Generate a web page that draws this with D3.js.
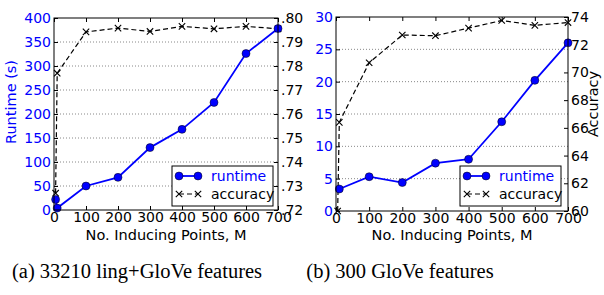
<!DOCTYPE html>
<html lang="en">
<head>
<meta charset="UTF-8" />
<title>Runtime vs accuracy</title>
<script src="https://d3js.org/d3.v7.min.js"></script>
<style>
  body { margin: 0; background: #fff; }
  svg { display: block; }
  .tick text { font-family: "DejaVu Sans", sans-serif; font-size: 14px; }
  .domain { display: none; }
  .lbl { font-family: "DejaVu Sans", sans-serif; font-size: 14.5px; }
  .leg { font-family: "DejaVu Sans", sans-serif; font-size: 14px; }
  .cap { font-family: "Liberation Serif", serif; font-size: 20.5px; }
</style>
</head>
<body>
<svg width="604" height="295"></svg>
<script>
// Data
const M = [5, 10, 100, 200, 300, 400, 500, 600, 700];
const runtimeA = [22, 4, 50, 68, 130, 168, 224, 326, 378];
const accuracyA = [0.727, 0.777, 0.7942, 0.7958, 0.7944, 0.7965, 0.7955, 0.7965, 0.7955];
const runtimeB = [null, 3.4, 5.3, 4.4, 7.4, 8.0, 13.8, 20.2, 26.0];
const accuracyB = [60.0, 66.4, 70.7, 72.7, 72.65, 73.2, 73.75, 73.4, 73.6];

const xTicks = [0, 100, 200, 300, 400, 500, 600, 700];
const runTicksA = [0, 50, 100, 150, 200, 250, 300, 350, 400];
const accTicksA = [0.72, 0.73, 0.74, 0.75, 0.76, 0.77, 0.78, 0.79, 0.80];
const runTicksB = [0, 5, 10, 15, 20, 25, 30];
const accTicksB = [60, 62, 64, 66, 68, 70, 72, 74];

const BLUE = "#0000ff";
const svg = d3.select("svg");

function panel(p) {
  const x = d3.scaleLinear().domain([0, 700]).range([p.left, p.right]);
  const yL = d3.scaleLinear().domain(p.runDomain).range([p.bottom, p.top]);
  const yR = d3.scaleLinear().domain(p.accDomain).range([p.bottom, p.top]);
  const g = svg.append("g");

  // gridlines on left axis
  g.selectAll(".grid").data(p.runTicks.slice(1, -1)).enter().append("line")
    .attr("x1", p.left).attr("x2", p.right)
    .attr("y1", d => yL(d)).attr("y2", d => yL(d))
    .attr("stroke", "#888").attr("stroke-width", 1).attr("stroke-dasharray", "1,2");

  // axes with inward ticks
  g.append("g").attr("transform", `translate(0,${p.bottom})`)
    .call(d3.axisBottom(x).tickValues(xTicks).tickSize(-4).tickPadding(2).tickFormat(d3.format("d")))
    .call(a => a.selectAll("text").attr("fill", "#000"));
  g.append("g").attr("transform", `translate(0,${p.top})`)
    .call(d3.axisTop(x).tickValues(xTicks).tickSize(-4).tickFormat(""));
  g.append("g").attr("transform", `translate(${p.left},0)`)
    .call(d3.axisLeft(yL).tickValues(p.runTicks).tickSize(-4).tickPadding(3).tickFormat(d3.format("d")))
    .call(a => a.selectAll("text").attr("fill", BLUE));
  g.append("g").attr("transform", `translate(${p.right},0)`)
    .call(d3.axisRight(yR).tickValues(p.accTicks).tickSize(-4).tickPadding(3).tickFormat(p.accFormat))
    .call(a => a.selectAll("text").attr("fill", "#000"));
  g.selectAll(".tick line").attr("stroke", "#000");

  // accuracy
  const accPts = M.map((m, i) => [m, p.acc[i]]).filter(d => d[1] != null);
  g.append("path").datum(accPts)
    .attr("d", d3.line().x(d => x(d[0])).y(d => yR(d[1])))
    .attr("fill", "none").attr("stroke", "#000").attr("stroke-width", 1.2).attr("stroke-dasharray", "5,3");
  g.selectAll(".xm").data(accPts).enter().append("path")
    .attr("transform", d => `translate(${x(d[0])},${yR(d[1])})`)
    .attr("d", "M-3.2,-3.2L3.2,3.2M-3.2,3.2L3.2,-3.2").attr("stroke", "#000").attr("stroke-width", 1.1);

  // runtime
  const runPts = M.map((m, i) => [m, p.run[i]]).filter(d => d[1] != null);
  g.append("path").datum(runPts)
    .attr("d", d3.line().x(d => x(d[0])).y(d => yL(d[1])))
    .attr("fill", "none").attr("stroke", BLUE).attr("stroke-width", 1.8);
  g.selectAll(".dot").data(runPts).enter().append("circle")
    .attr("cx", d => x(d[0])).attr("cy", d => yL(d[1])).attr("r", 4)
    .attr("fill", BLUE).attr("stroke", "#000").attr("stroke-width", 0.5);

  // frame
  g.append("rect").attr("x", p.left).attr("y", p.top)
    .attr("width", p.right - p.left).attr("height", p.bottom - p.top)
    .attr("fill", "none").attr("stroke", "#000").attr("stroke-width", 1);

  // legend
  const lx = p.legX, ly = 166;
  g.append("rect").attr("x", lx).attr("y", ly).attr("width", 101).attr("height", 40)
    .attr("fill", "#fff").attr("stroke", "#000").attr("stroke-width", 1);
  const r1 = ly + 10, r2 = ly + 28;
  g.append("line").attr("x1", lx + 7).attr("x2", lx + 26).attr("y1", r1).attr("y2", r1)
    .attr("stroke", BLUE).attr("stroke-width", 1.8);
  [lx + 7, lx + 26].forEach(cx => g.append("circle").attr("cx", cx).attr("cy", r1).attr("r", 4)
    .attr("fill", BLUE).attr("stroke", "#000").attr("stroke-width", 0.5));
  g.append("line").attr("x1", lx + 7).attr("x2", lx + 26).attr("y1", r2).attr("y2", r2)
    .attr("stroke", "#000").attr("stroke-width", 1.2).attr("stroke-dasharray", "5,3");
  [lx + 7, lx + 26].forEach(cx => g.append("path").attr("transform", `translate(${cx},${r2})`)
    .attr("d", "M-3.2,-3.2L3.2,3.2M-3.2,3.2L3.2,-3.2").attr("stroke", "#000").attr("stroke-width", 1.1));
  g.append("text").attr("class", "leg").attr("x", lx + 39).attr("y", r1 + 5).attr("fill", BLUE).text("runtime");
  g.append("text").attr("class", "leg").attr("x", lx + 39).attr("y", r2 + 5).attr("fill", "#000").text("accuracy");

  // labels
  g.append("text").attr("class", "lbl").attr("text-anchor", "middle")
    .attr("x", (p.left + p.right) / 2).attr("y", 239.5).text("No. Inducing Points, M");
  if (p.leftLabel) {
    g.append("text").attr("class", "lbl").attr("text-anchor", "middle").attr("fill", BLUE)
      .attr("transform", `translate(16,${(p.top + p.bottom) / 2 - 12}) rotate(-90)`).text(p.leftLabel);
  }
  if (p.rightLabel) {
    g.append("text").attr("class", "lbl").attr("text-anchor", "middle")
      .attr("transform", `translate(598,${(p.top + p.bottom) / 2 - 10}) rotate(-90)`).text(p.rightLabel);
  }
  svg.append("text").attr("class", "cap").attr("text-anchor", "middle")
    .attr("x", p.capX).attr("y", 278).text(p.caption);
}

panel({
  left: 54, right: 278, top: 18, bottom: 210,
  runDomain: [0, 400], accDomain: [0.72, 0.80],
  runTicks: runTicksA, accTicks: accTicksA,
  accFormat: d => d3.format(".2f")(d).replace(/^0/, ""),
  run: runtimeA, acc: accuracyA, legX: 172,
  leftLabel: "Runtime (s)", rightLabel: null,
  caption: "(a) 33210 ling+GloVe features", capX: 137
});
panel({
  left: 336, right: 568, top: 17, bottom: 211,
  runDomain: [0, 30], accDomain: [60, 74],
  runTicks: runTicksB, accTicks: accTicksB,
  accFormat: d3.format("d"),
  run: runtimeB, acc: accuracyB, legX: 460,
  leftLabel: null, rightLabel: "Accuracy",
  caption: "(b) 300 GloVe features", capX: 400
});
</script>
</body>
</html>
